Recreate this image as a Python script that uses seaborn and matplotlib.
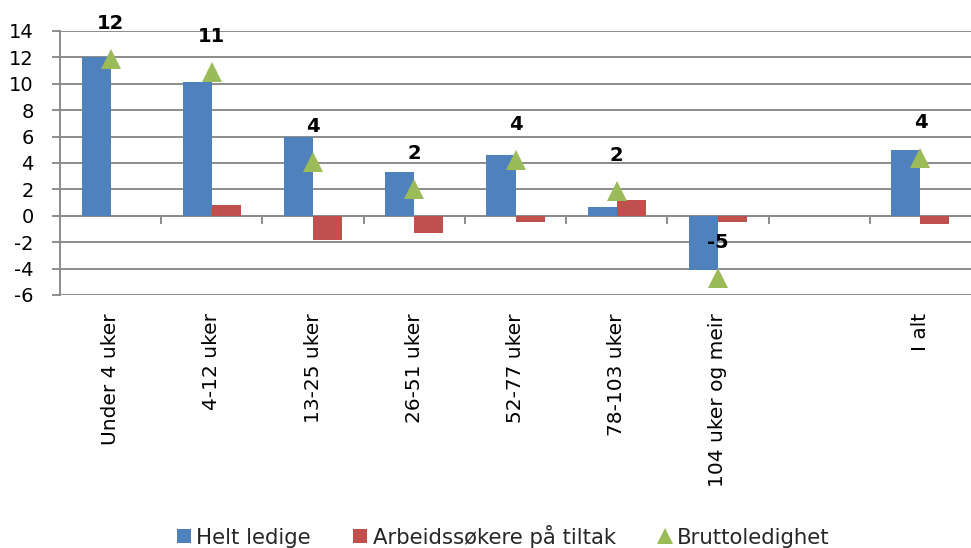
import matplotlib
matplotlib.use("Agg")
import matplotlib.pyplot as plt
from matplotlib.lines import Line2D
import seaborn as sns
import pandas as pd

# ---- data ----
categories = ["Under 4 uker", "4-12 uker", "13-25 uker", "26-51 uker", "52-77 uker",
              "78-103 uker", "104 uker og meir", "I alt"]
slot_order = ["Under 4 uker", "4-12 uker", "13-25 uker", "26-51 uker", "52-77 uker",
              "78-103 uker", "104 uker og meir", " ", "I alt"]
helt_ledige = [12.0, 10.1, 6.0, 3.3, 4.6, 0.7, -4.1, 5.0]
tiltak = [0.02, 0.8, -1.8, -1.3, -0.45, 1.2, -0.5, -0.6]
brutto = [11.9, 10.9, 4.1, 2.0, 4.2, 1.9, -4.7, 4.4]
series_names = ["Helt ledige", "Arbeidssøkere på tiltak", "Bruttoledighet"]
y_ticks = list(range(-6, 15, 2))

# ---- style ----
blue, red, green = "#4F81BD", "#C0504D", "#9BBB59"
grid_c = "#8C8C8C"
sns.set_theme(style="white")
plt.rcParams["font.family"] = ["DejaVu Sans"]

df = pd.DataFrame({
    "Kategori": categories * 2,
    "Serie": [series_names[0]] * len(categories) + [series_names[1]] * len(categories),
    "Verdi": helt_ledige + tiltak,
})

fig = plt.figure(figsize=(9.71, 5.48), dpi=100)
ax = fig.add_axes([60 / 971, 1 - 295 / 548, 911 / 971, 264 / 548])

sns.barplot(data=df, x="Kategori", y="Verdi", hue="Serie", order=slot_order,
            hue_order=series_names[:2], palette=[blue, red], width=0.573,
            saturation=1, legend=False, ax=ax, zorder=3, linewidth=0)
sns.pointplot(x=categories, y=brutto, order=slot_order, linestyle="none",
              marker="^", color=green, markersize=14, markeredgewidth=0,
              errorbar=None, ax=ax, zorder=5)

for c, v in zip(categories, brutto):
    ax.annotate(f"{v:.0f}", (slot_order.index(c), v), xytext=(0, 25.5),
                textcoords="offset points", ha="center", va="center",
                fontsize=14, fontweight="bold", color="black", zorder=6)

ax.set_xlim(-0.5, len(slot_order) - 0.5)
ax.set_ylim(-6, 14)
ax.set_yticks(y_ticks)
ax.set_yticklabels([str(t) for t in y_ticks])
ax.yaxis.grid(True, color=grid_c, linewidth=1.4)
ax.set_axisbelow(True)
ax.set_xlabel("")
ax.set_ylabel("")

for s in ["top", "right"]:
    ax.spines[s].set_visible(False)
ax.spines["left"].set_color(grid_c)
ax.spines["left"].set_linewidth(1.4)
ax.spines["bottom"].set_position(("data", 0))
ax.spines["bottom"].set_color(grid_c)
ax.spines["bottom"].set_linewidth(1.4)

ax.tick_params(axis="y", which="major", direction="out", length=5.8, width=1.4,
               color=grid_c, labelsize=14, pad=13, left=True, labelcolor="black")
ax.set_xticks([i + 0.5 for i in range(len(slot_order) - 1)])
ax.set_xticklabels([])
ax.tick_params(axis="x", which="major", direction="out", length=5.5, width=1.4,
               color=grid_c, bottom=True)

sec = ax.secondary_xaxis("bottom")
sec.set_xticks(range(len(slot_order)))
sec.set_xticklabels(slot_order, rotation=90, fontsize=14.5)
sec.tick_params(length=0, pad=13, labelcolor="black")
sec.spines["bottom"].set_visible(False)

handles = [
    Line2D([], [], linestyle="none", marker="s", markersize=10, color=blue, markeredgewidth=0),
    Line2D([], [], linestyle="none", marker="s", markersize=10, color=red, markeredgewidth=0),
    Line2D([], [], linestyle="none", marker="^", markersize=12, color=green, markeredgewidth=0),
]
fig.legend(handles, series_names, loc="center", bbox_to_anchor=(503 / 971, 1 - 536 / 548),
           ncol=3, frameon=False, fontsize=15.3, handlelength=0.7, handletextpad=0.25,
           columnspacing=1.95, borderpad=0)

fig.savefig("out.png", dpi=100)
